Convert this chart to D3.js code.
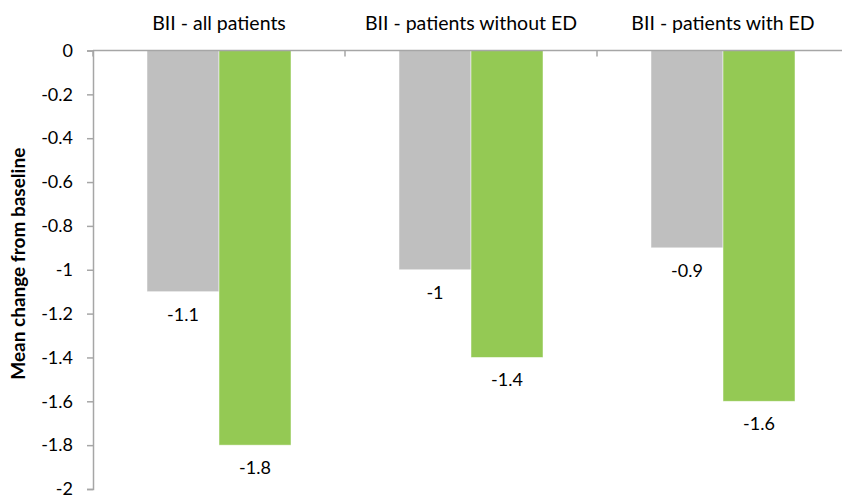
<!DOCTYPE html>
<html><head><meta charset="utf-8">
<script src="https://cdn.jsdelivr.net/npm/d3@7"></script>
<style>
html,body{margin:0;padding:0;background:#fff;}
svg{display:block;font-family:Lato, "Open Sans", sans-serif;}
</style></head>
<body>
<svg id="chart" width="842" height="496"></svg>
<script>
const categories = ["BII - all patients", "BII - patients without ED", "BII - patients with ED"];
const seriesNames = ["Series A", "Series B"];
const seriesA = [-1.1, -1.0, -0.9];
const seriesB = [-1.8, -1.4, -1.6];
const seriesColors = ["#BFBFBF", "#94C954"];
const yTicks = [0, -0.2, -0.4, -0.6, -0.8, -1, -1.2, -1.4, -1.6, -1.8, -2];
const yTitle = "Mean change from baseline";

(function () {
const svg = d3.select("#chart");
const pL = 93, pR = 849, pT = 50.5, pB = 489;
const axisColor = "#A6A6A6";

const y = d3.scaleLinear().domain([-2, 0]).range([pB, pT]);
const x0 = d3.scaleBand().domain(categories).range([pL, pR]).paddingInner(0).paddingOuter(0);
const x1 = d3.scaleBand().domain(seriesNames).range([0, x0.bandwidth()]).paddingInner(0).paddingOuter(0.75);

const data = categories.map((c, i) => ({cat: c, vals: [
  {s: seriesNames[0], v: seriesA[i], color: seriesColors[0]},
  {s: seriesNames[1], v: seriesB[i], color: seriesColors[1]}
]}));

const g = svg.append("g");
const groups = g.selectAll("g.grp").data(data).join("g")
  .attr("transform", d => `translate(${x0(d.cat)},0)`);
groups.selectAll("rect").data(d => d.vals).join("rect")
  .attr("x", d => x1(d.s))
  .attr("width", x1.bandwidth())
  .attr("y", y(0))
  .attr("height", d => y(d.v) - y(0))
  .attr("fill", d => d.color)
  .attr("stroke", "rgba(255,255,255,0.6)")
  .attr("stroke-width", 0.8);

groups.selectAll("text.val").data(d => d.vals).join("text")
  .attr("class", "val")
  .attr("x", d => x1(d.s) + x1.bandwidth() / 2)
  .attr("y", d => y(d.v) + 29)
  .attr("text-anchor", "middle")
  .attr("font-size", 18)
  .attr("fill", "#000")
  .text(d => String(d.v));

const yAxis = d3.axisLeft(y).tickValues(yTicks).tickSize(6).tickPadding(14).tickFormat(d => String(d));
const ya = svg.append("g").attr("transform", `translate(${pL},0)`).call(yAxis);
ya.select(".domain").attr("stroke", axisColor).attr("stroke-width", 1.5);
ya.selectAll(".tick line").attr("stroke", axisColor).attr("stroke-width", 1.5);
ya.selectAll(".tick text").attr("font-size", 18).attr("fill", "#000").attr("font-family", "Lato, sans-serif");

const xa = svg.append("g");
xa.append("line").attr("x1", pL).attr("x2", pR).attr("y1", y(0)).attr("y2", y(0))
  .attr("stroke", axisColor).attr("stroke-width", 1.5);
const bounds = categories.map(c => x0(c)).concat([x0(categories[categories.length-1]) + x0.bandwidth()]);
xa.selectAll("line.ct").data(bounds).join("line").attr("class", "ct")
  .attr("x1", d => d).attr("x2", d => d)
  .attr("y1", y(0)).attr("y2", y(0) + 6)
  .attr("stroke", axisColor).attr("stroke-width", 1.5);

svg.selectAll("text.cat").data(categories).join("text").attr("class", "cat")
  .attr("x", d => x0(d) + x0.bandwidth() / 2)
  .attr("y", 30)
  .attr("text-anchor", "middle")
  .attr("font-size", 19.5)
  .attr("fill", "#000")
  .text(d => d);

svg.append("text")
  .attr("transform", `translate(25,${(pT + pB) / 2 - 6}) rotate(-90)`)
  .attr("text-anchor", "middle")
  .attr("font-size", 19)
  .attr("font-weight", "bold")
  .attr("fill", "#000")
  .text(yTitle);
})();
</script>
</body></html>
